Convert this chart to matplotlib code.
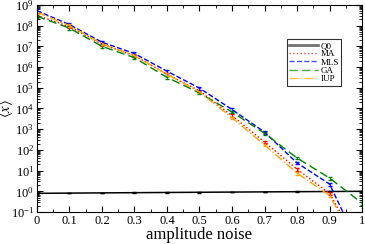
"""Mean <x> versus amplitude noise for several estimators"""
import numpy as np
import matplotlib
matplotlib.use("Agg")
import matplotlib.pyplot as plt
from matplotlib.lines import Line2D
from matplotlib.ticker import LogLocator, MultipleLocator, NullFormatter, FuncFormatter

plt.rcParams['font.family'] = ['Liberation Serif', 'DejaVu Serif']
plt.rcParams['mathtext.fontset'] = 'stix'

noise = [0.0, 0.1, 0.2, 0.3, 0.4, 0.5, 0.6, 0.7, 0.8, 0.9, 1.0]

# values (log10 of <x>)
q0 = [0.80, 0.82, 0.84, 0.86, 0.88, 0.90, 0.92, 0.94, 0.96, 0.98, 1.00]
ma_log = [8.50, 7.95, 7.10, 6.55, 5.65, 4.85, 3.65, 2.38, 1.07, -0.10, -2.90]
mls_log = [8.72, 8.05, 7.20, 6.65, 5.80, 4.98, 3.95, 2.86, 1.37, 0.35, -2.95]
ga_log = [8.45, 7.88, 7.00, 6.45, 5.50, 4.75, 3.83, 2.80, 1.61, 0.64, -0.57]
iup_log = [8.65, 8.00, 7.12, 6.55, 5.65, 4.80, 3.55, 2.24, 0.88, -0.20, -3.00]

# relative error bar size
rel_err = 0.15

series = [
    ('MA', ma_log, 'red', ':'),
    ('MLS', mls_log, 'blue', '--'),
    ('GA', ga_log, 'green', (0, (6, 3))),
    ('IUP', iup_log, 'orange', '-.'),
]

fig = plt.figure(figsize=(3.65, 2.44), dpi=100)
ax = fig.add_axes([0.101, 0.131, 0.891, 0.849])

q0 = np.array(q0)
ax.errorbar(noise, q0, yerr=q0 * 0.03, color='black', lw=1.1,
            capsize=1.5, elinewidth=0.6)
handles = [Line2D([], [], color='0.45', lw=2.0, label='Q0')]
for name, vals, color, ls in series:
    y = 10.0 ** np.array(vals)
    ax.errorbar(noise, y, yerr=y * rel_err, color=color, ls=ls, lw=1.0,
                capsize=1.5, elinewidth=0.6)
    handles.append(Line2D([], [], color=color, ls=ls, lw=1.0, alpha=0.7, label=name))

ax.set_yscale('log')
ax.set_xlim(0, 1)
ax.set_ylim(1e-1, 1e9)
ax.xaxis.set_major_locator(MultipleLocator(0.1))
ax.xaxis.set_minor_locator(MultipleLocator(0.05))
ax.xaxis.set_major_formatter(FuncFormatter(lambda v, p: '%g' % round(v, 2)))
ax.yaxis.set_major_locator(LogLocator(base=10, numticks=20))
ax.yaxis.set_minor_locator(LogLocator(base=10, subs=np.arange(2, 10), numticks=20))
ax.yaxis.set_minor_formatter(NullFormatter())
ax.tick_params(which='both', direction='in', top=True, right=True, labelsize=9)
ax.tick_params(which='major', length=4, pad=2)
ax.tick_params(which='minor', length=2)

ax.set_xlabel('amplitude noise', fontsize=12, labelpad=0)
ax.set_ylabel(r'$\langle x\rangle$', fontsize=10.5)
ax.yaxis.set_label_coords(-0.066, 0.5)

leg = ax.legend(handles=handles, loc='upper right', bbox_to_anchor=(0.95, 0.855),
                fontsize=6.5, frameon=True, fancybox=False, edgecolor='black',
                handlelength=3.2, labelspacing=0.0, borderpad=0.25,
                handletextpad=0.3)
leg.get_frame().set_linewidth(0.8)

plt.savefig('out.png', dpi=100)
